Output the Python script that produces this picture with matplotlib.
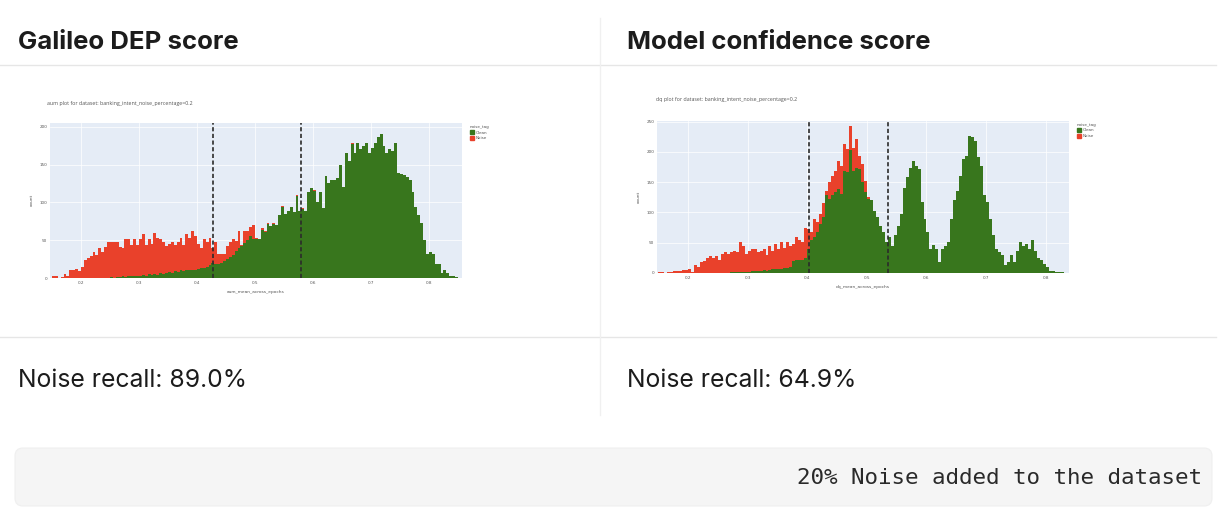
import matplotlib

matplotlib.use("Agg")
import matplotlib.pyplot as plt
import numpy as np
from matplotlib.patches import FancyBboxPatch, Patch

W, H = 1229, 523

# histogram bins (both plots use 0.005 wide bins starting at 0.15)
BIN_START = 0.15
BIN_WIDTH = 0.005

# aum_mean_across_epochs, stacked: clean at bottom, noise on top
AUM_CLEAN = [
    0, 0, 0, 0, 0, 0, 0, 0, 0, 0,
    0, 0, 0, 0, 0, 0, 0, 0, 0, 0,
    1, 0, 1, 1, 2, 1, 2, 2, 3, 2,
    3, 4, 3, 5, 4, 5, 4, 6, 5, 7,
    8, 7, 9, 8, 10, 9, 11, 10, 11, 10,
    12, 13, 13, 14, 17, 20, 19, 18, 20, 22,
    25, 28, 30, 36, 40, 42, 46, 50, 55, 52,
    51, 51, 63, 61, 72, 69, 72, 70, 83, 94,
    85, 88, 94, 87, 108, 88, 91, 88, 114, 119,
    115, 100, 114, 92, 135, 126, 130, 130, 132, 150,
    120, 165, 155, 177, 165, 179, 170, 175, 179, 165,
    172, 178, 186, 190, 174, 165, 170, 168, 178, 139,
    137, 136, 133, 129, 114, 94, 83, 73, 50, 32,
    34, 32, 19, 19, 6, 10, 6, 3, 3, 1,
]
AUM_NOISE = [
    2, 2, 0, 1, 5, 3, 10, 10, 12, 9,
    14, 24, 27, 29, 35, 30, 40, 35, 41, 47,
    46, 47, 46, 40, 38, 51, 50, 42, 49, 42,
    49, 54, 41, 46, 41, 55, 49, 45, 42, 35,
    37, 40, 35, 40, 43, 35, 47, 43, 51, 46,
    33, 27, 38, 33, 36, 20, 28, 14, 12, 10,
    17, 19, 21, 13, 22, 2, 16, 12, 12, 18,
    2, 1, 3, 1, 1, 0, 1, 0, 0, 1,
    0, 0, 0, 0, 2, 0, 1, 0, 0, 0,
    1, 0, 0, 0, 0, 0, 0, 0, 0, 0,
    0, 0, 0, 1, 0, 0, 0, 0, 0, 0,
    0, 0, 0, 0, 0, 0, 0, 0, 0, 0,
    0, 0, 0, 0, 0, 0, 0, 0, 0, 0,
    0, 0, 0, 0, 0, 0, 0, 0, 0, 0,
]
AUM_THRESHOLDS = [0.428, 0.580]

# dq_mean_across_epochs (model confidence)
DQ_CLEAN = [
    0, 0, 0, 0, 0, 0, 0, 0, 0, 0,
    0, 0, 0, 0, 0, 0, 0, 0, 0, 0,
    0, 0, 0, 0, 1, 1, 2, 1, 2, 2,
    2, 3, 3, 4, 4, 5, 4, 5, 6, 6,
    7, 7, 8, 9, 10, 20, 21, 22, 21, 24,
    40, 54, 59, 67, 81, 92, 128, 122, 128, 133,
    139, 130, 169, 166, 203, 169, 174, 172, 150, 133,
    123, 120, 103, 92, 78, 67, 51, 59, 45, 62,
    78, 98, 141, 158, 174, 185, 177, 172, 117, 89,
    67, 40, 47, 40, 18, 40, 45, 51, 89, 120,
    136, 161, 188, 194, 226, 225, 218, 191, 177, 128,
    117, 89, 62, 40, 35, 29, 13, 18, 29, 18,
    37, 52, 45, 48, 40, 54, 37, 24, 21, 15,
    10, 4, 3, 2, 1, 1, 0, 0,
]
DQ_NOISE = [
    1, 1, 0, 2, 2, 3, 4, 4, 5, 5,
    7, 2, 13, 10, 18, 19, 24, 28, 24, 28,
    21, 32, 35, 32, 34, 35, 33, 50, 42, 30,
    35, 37, 37, 31, 33, 34, 25, 40, 30, 42,
    32, 44, 33, 42, 34, 28, 39, 32, 30, 50,
    33, 13, 30, 18, 17, 24, 7, 28, 33, 36,
    46, 47, 44, 38, 39, 38, 47, 22, 30, 19,
    2, 0, 0, 0, 0, 0, 0, 0, 0, 0,
    0, 0, 0, 0, 0, 0, 0, 0, 0, 0,
    0, 0, 0, 0, 0, 0, 0, 0, 0, 0,
    0, 0, 0, 0, 0, 0, 0, 0, 0, 0,
    0, 0, 0, 0, 0, 0, 0, 0, 0, 0,
    0, 0, 0, 0, 0, 0, 0, 0, 0, 0,
    0, 0, 0, 0, 0, 0, 0, 0,
]
DQ_THRESHOLDS = [0.403, 0.535]

X_TICKS = [0.2, 0.3, 0.4, 0.5, 0.6, 0.7, 0.8]
AUM_Y_TICKS = [0, 50, 100, 150, 200]
DQ_Y_TICKS = [0, 50, 100, 150, 200, 250]

HEADERS = ["Galileo DEP score", "Model confidence score"]
RECALLS = ["Noise recall: 89.0%", "Noise recall: 64.9%"]
FOOTNOTE = "20% Noise added to the dataset"

CLEAN_COLOR = "#38761d"
NOISE_COLOR = "#e9412b"
PLOT_BG = "#e5ecf6"
RULE_COLOR = "#e6e6e6"
TEXT_COLOR = "#1c1c1c"
SMALL_TEXT = "#555555"


def px_box(x0, y0, x1, y1):
    """pixel box (top-left origin) -> figure fraction rect"""
    return [x0 / W, 1 - y1 / H, (x1 - x0) / W, (y1 - y0) / H]


def draw_hist(fig, rect, clean, noise, thresholds, xlim, yticks, ylim, title, xlabel, title_xy, ylabel_xy):
    clean = np.asarray(clean)
    noise = np.asarray(noise)
    edges = BIN_START + BIN_WIDTH * np.arange(len(clean) + 1)

    ax = fig.add_axes(px_box(*rect))
    ax.set_facecolor(PLOT_BG)
    ax.stairs(clean, edges, baseline=0, fill=True, color=CLEAN_COLOR, zorder=2)
    ax.stairs(clean + noise, edges, baseline=clean, fill=True, color=NOISE_COLOR, zorder=2)
    for t in thresholds:
        ax.axvline(t, color="#2b2b2b", lw=1.2, ls=(0, (2.5, 1.5)), zorder=3)

    ax.set_xlim(*xlim)
    ax.set_ylim(*ylim)
    ax.set_xticks(X_TICKS)
    ax.set_xticklabels([f"{v:.1f}" for v in X_TICKS])
    ax.set_yticks(yticks)
    ax.grid(True, color="white", lw=0.5, zorder=1)
    ax.set_axisbelow(True)
    ax.tick_params(length=0, labelsize=3, labelcolor=SMALL_TEXT, pad=2)
    for s in ax.spines.values():
        s.set_visible(False)
    ax.set_xlabel(xlabel, fontsize=3.2, color=SMALL_TEXT, labelpad=4)

    fig.text(title_xy[0] / W, 1 - title_xy[1] / H, title, fontsize=3.8, color=SMALL_TEXT,
             family="Open Sans", va="center", ha="left")
    fig.text(ylabel_xy[0] / W, 1 - ylabel_xy[1] / H, "count", fontsize=3.2, color=SMALL_TEXT,
             rotation=90, va="center", ha="center")

    handles = [Patch(color=CLEAN_COLOR, label="Clean"), Patch(color=NOISE_COLOR, label="Noise")]
    leg = ax.legend(handles=handles, title="noise_tag", loc="upper left", bbox_to_anchor=(1.015, 1.0),
                    frameon=False, fontsize=3, title_fontsize=3, handlelength=0.9, handleheight=0.9,
                    handletextpad=0.6, borderaxespad=0, labelspacing=0.4)
    leg._legend_box.align = "left"
    for txt in leg.get_texts():
        txt.set_color(SMALL_TEXT)
    leg.get_title().set_color(SMALL_TEXT)
    return ax


fig = plt.figure(figsize=(W / 100, H / 100), dpi=100)

# page layer in pixel coordinates
bg = fig.add_axes([0, 0, 1, 1])
bg.set_xlim(0, W)
bg.set_ylim(H, 0)
bg.axis("off")

# table rules
bg.plot([0, 1216], [65, 65], color=RULE_COLOR, lw=1)
bg.plot([0, 1216], [337, 337], color=RULE_COLOR, lw=1)
bg.plot([600, 600], [18, 415], color="#f0f0f0", lw=1)

for x, head, rec in zip([18, 627], HEADERS, RECALLS):
    bg.text(x, 49, head, fontsize=18.5, fontweight="bold", family="Inter", color=TEXT_COLOR, va="baseline")
    bg.text(x, 387, rec, fontsize=17.8, family="Inter", color=TEXT_COLOR, va="baseline")

box = FancyBboxPatch((15, 448), 1197, 58, boxstyle="round,pad=0,rounding_size=8",
                     facecolor="#f5f5f5", edgecolor="#efefef", lw=0.8)
bg.add_patch(box)
bg.text(1202, 478, FOOTNOTE, fontsize=16.2, family="DejaVu Sans Mono", color="#2a2a2a", va="center", ha="right")

draw_hist(fig, (50, 123, 462, 278), AUM_CLEAN, AUM_NOISE, AUM_THRESHOLDS, (0.1466, 0.857),
          AUM_Y_TICKS, (0, 205), "aum plot for dataset: banking_intent_noise_percentage=0.2",
          "aum_mean_across_epochs", (47, 104), (32, 200))
draw_hist(fig, (657, 121, 1069, 273), DQ_CLEAN, DQ_NOISE, DQ_THRESHOLDS, (0.148, 0.839),
          DQ_Y_TICKS, (0, 251), "dq plot for dataset: banking_intent_noise_percentage=0.2",
          "dq_mean_across_epochs", (656, 100), (639, 197))

fig.savefig("out.png", dpi=100, facecolor="white")
